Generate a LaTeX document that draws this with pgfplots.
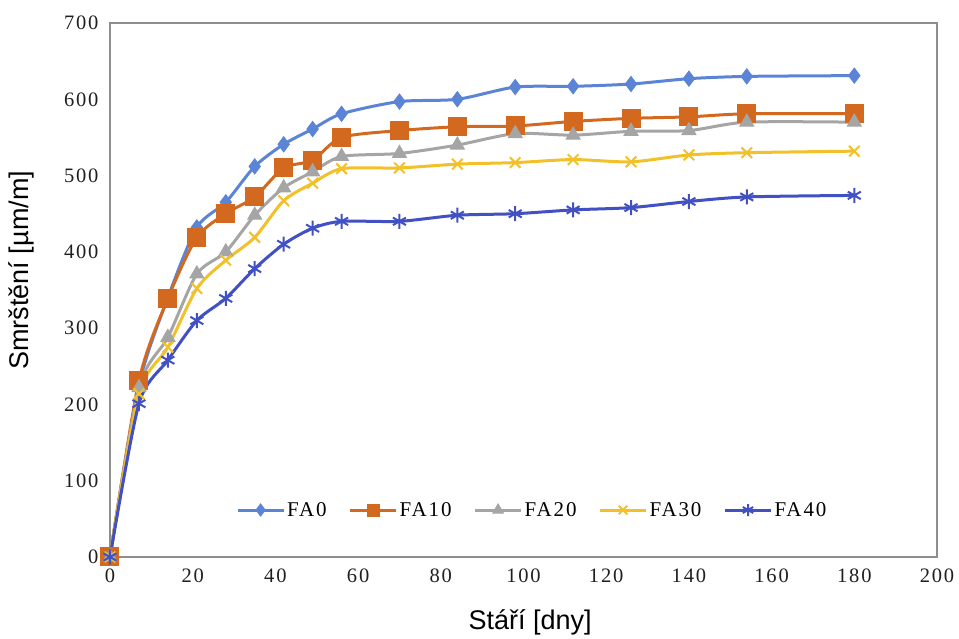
\documentclass[border=0pt]{standalone}
\usepackage{fontspec}
\setmainfont{Liberation Serif}
\newfontfamily\labelfont{Liberation Sans}
\newfontfamily\tickfont[LetterSpace=9]{Liberation Serif}
\usepackage{pgfplots}
\pgfplotsset{compat=1.18}
\definecolor{cFA0}{HTML}{5B84D6}
\definecolor{cFA10}{HTML}{D2691E}
\definecolor{cFA20}{HTML}{A5A5A5}
\definecolor{cFA30}{HTML}{F2C029}
\definecolor{cFA40}{HTML}{4150C2}
\definecolor{frame}{HTML}{8E8E8E}
\begin{document}
\begin{tikzpicture}
\begin{axis}[
  scale only axis,
  width=827pt, height=534pt,
  xmin=0, xmax=200, ymin=0, ymax=700,
  xtick={0,20,...,200}, ytick={0,100,...,700},
  major tick length=0pt,
  axis line style={draw=frame, line width=2pt},
  clip=false,
  /pgf/number format/assume math mode=true,
  ticklabel style={font=\tickfont\fontsize{20.5}{20.5}\selectfont, text=black!88},
  yticklabel style={xshift=-8pt},
  xticklabel style={yshift=-8pt},
  xlabel={Stáří [dny]},
  ylabel={Smrštění [µm/m]},
  label style={font=\labelfont\fontsize{27}{27}\selectfont},
  xlabel style={at={(axis description cs:0.508,-0.122)}, anchor=center},
  ylabel style={at={(axis description cs:-0.1076,0.537)}, anchor=center, rotate=0},
  legend columns=5,
  legend style={at={(axis description cs:0.5106,0.088)}, anchor=center, draw=none, fill=none,
    font=\tickfont\fontsize{21}{21}\selectfont, /tikz/every even column/.append style={column sep=20pt}},
  legend image code/.code={\draw[mark repeat=2,mark phase=2,mark size=6pt] plot coordinates {(0pt,0pt) (23pt,0pt) (46pt,0pt)};},
  every axis plot/.append style={line width=3pt, smooth, tension=0.45},
]
\addplot[color=cFA0, mark=diamond*, mark size=7.5pt, mark options={solid, line width=1pt}] coordinates {
(0,0) (7,225) (14,340) (21,432) (28,465) (35,512) (42,541) (49,561) (56,581) (70,597) (84,600) (98,616) (112,617) (126,620) (140,627) (154,630) (180,631)};
\addlegendentry{FA0}
\addplot[color=cFA10, mark=square*, mark size=9pt, mark options={solid, line width=1pt}] coordinates {
(0,0) (7,231) (14,339) (21,419) (28,450) (35,472) (42,510) (49,520) (56,550) (70,559) (84,564) (98,565) (112,571) (126,575) (140,577) (154,581) (180,581)};
\addlegendentry{FA10}
\addplot[color=cFA20, mark=triangle*, mark size=8pt, mark options={solid, line width=1pt}] coordinates {
(0,0) (7,222) (14,288) (21,371) (28,400) (35,448) (42,484) (49,505) (56,525) (70,529) (84,540) (98,555) (112,553) (126,558) (140,559) (154,570) (180,570)};
\addlegendentry{FA20}
\addplot[color=cFA30, mark=x, mark size=7.5pt, mark options={solid, line width=2pt}] coordinates {
(0,0) (7,214) (14,275) (21,352) (28,389) (35,419) (42,467) (49,490) (56,509) (70,510) (84,515) (98,517) (112,521) (126,518) (140,527) (154,530) (180,532)};
\addlegendentry{FA30}
\addplot[color=cFA40, mark=asterisk, mark size=7.5pt, mark options={solid, line width=2pt}] coordinates {
(0,0) (7,201) (14,258) (21,310) (28,339) (35,378) (42,410) (49,431) (56,440) (70,440) (84,448) (98,450) (112,455) (126,458) (140,466) (154,472) (180,474)};
\addlegendentry{FA40}
\end{axis}
\path (current axis.south west) ++(-110pt,-82pt) rectangle ++(959pt,639pt);
\end{tikzpicture}
\end{document}
